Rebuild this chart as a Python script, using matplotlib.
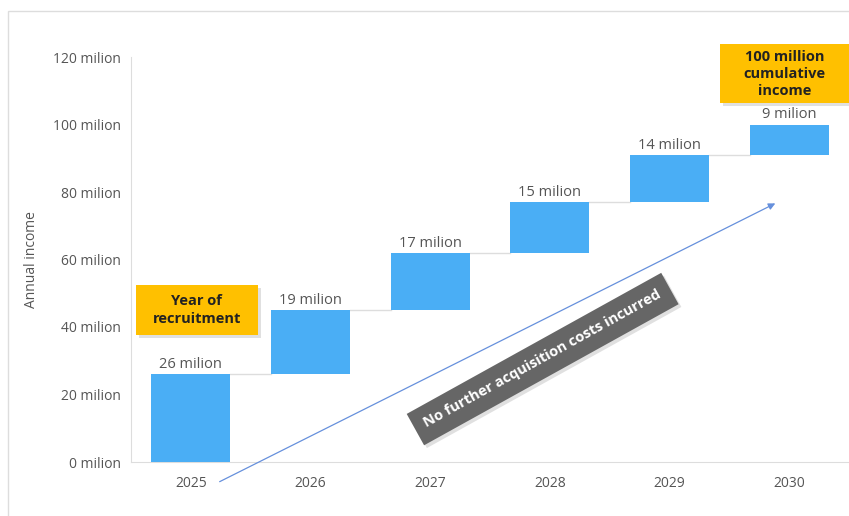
import matplotlib.pyplot as plt
import matplotlib.patheffects as pe
from matplotlib.patches import Rectangle

years = ['2025', '2026', '2027', '2028', '2029', '2030']
increments = [26, 19, 17, 15, 14, 9]
labels = ['26 milion', '19 milion', '17 milion', '15 milion', '14 milion', '9 milion']
yticks = [0, 20, 40, 60, 80, 100, 120]
ytick_labels = ['%d milion' % v for v in yticks]

plt.rcParams['font.family'] = ['Open Sans', 'DejaVu Sans']

fig = plt.figure(figsize=(8.49, 5.16), dpi=100)
ax = fig.add_axes([131 / 849, 54 / 516, 718 / 849, 405 / 516])

# outer frame
fig.patches.append(Rectangle((8 / 849, -0.1), 1.2, 1.1 - 11 / 516,
                             transform=fig.transFigure, fill=False,
                             edgecolor='#dddddd', lw=1))

bar_color = '#4aaef5'
base = 0
bottoms = []
for inc in increments:
    bottoms.append(base)
    base += inc
x = list(range(len(years)))
ax.bar(x, increments, bottom=bottoms, width=0.66, color=bar_color, zorder=3)

# connectors and labels
for i in range(len(years)):
    top = bottoms[i] + increments[i]
    if i < len(years) - 1:
        ax.plot([i + 0.33, i + 1 - 0.33], [top, top], color='#dddddd', lw=1, zorder=2)
    ax.text(i, top + 0.6, labels[i], ha='center', va='bottom', fontsize=10.5, color='#555555')

ax.set_xlim(-0.5, 5.5)
ax.set_ylim(0, 120)
ax.set_xticks(x)
ax.set_xticklabels(years, fontsize=10, color='#555555')
ax.set_yticks(yticks)
ax.set_yticklabels(ytick_labels, fontsize=10, color='#555555')
ax.tick_params(length=0, pad=7)
ax.tick_params(axis='x', pad=10)
for s in ['top', 'right']:
    ax.spines[s].set_visible(False)
for s in ['left', 'bottom']:
    ax.spines[s].set_color('#dddddd')
ax.set_ylabel('Annual income', fontsize=10, color='#555555', labelpad=10)

# arrow
ax.annotate('', xy=(4.905, 77), xytext=(0.22, -6.2),
            arrowprops=dict(arrowstyle='-|>', color='#6690dc', lw=0.9, mutation_scale=10),
            annotation_clip=False, zorder=4)

shadow = [pe.SimplePatchShadow(offset=(2, -2), shadow_rgbFace='#999999', alpha=0.3), pe.Normal()]

# callout boxes
box1 = Rectangle((-0.458, 37.6), 1.02, 14.8, fc='#ffc000', ec='none', zorder=5, clip_on=False)
box1.set_path_effects(shadow)
ax.add_patch(box1)
ax.text(0.05, 45.0, 'Year of\nrecruitment', ha='center', va='center', fontsize=10.5,
        fontweight='bold', color='#222222', linespacing=1.35, zorder=6)

box2 = Rectangle((4.42, 106.4), 1.2, 17.5, fc='#ffc000', ec='none', zorder=5, clip_on=False)
box2.set_path_effects(shadow)
ax.add_patch(box2)
ax.text(4.96, 115.0, '100 million\ncumulative\nincome', ha='center', va='center', fontsize=10.5,
        fontweight='bold', color='#222222', linespacing=1.3, zorder=6, clip_on=False)

t3 = ax.text(2.94, 30.5, 'No further acquisition costs incurred', ha='center', va='center',
             fontsize=10.5, fontweight='bold', color='white', rotation=29, rotation_mode='anchor',
             bbox=dict(boxstyle='square,pad=0.75', fc='#666666', ec='none'), zorder=5)
t3.get_bbox_patch().set_path_effects(shadow)

fig.savefig('out.png', dpi=100)
